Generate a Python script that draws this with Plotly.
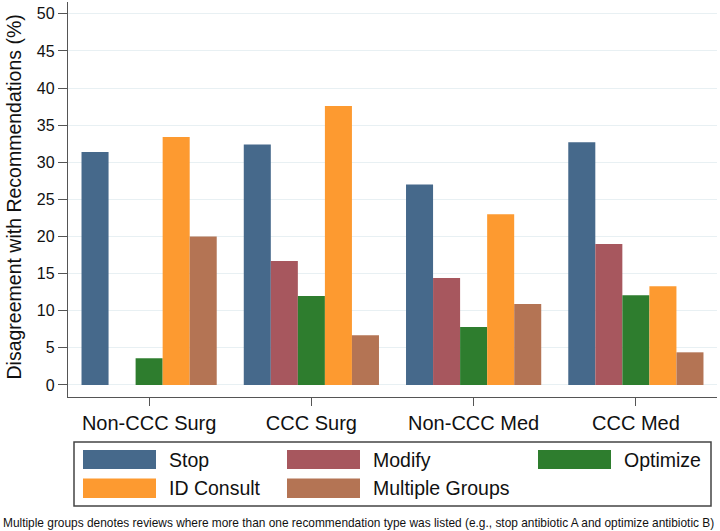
import plotly.graph_objects as go

categories = ["Non-CCC Surg", "CCC Surg", "Non-CCC Med", "CCC Med"]
series_names = ["Stop", "Modify", "Optimize", "ID Consult", "Multiple Groups"]
stop = [31.4, 32.4, 27.0, 32.7]
modify = [None, 16.7, 14.4, 19.0]
optimize = [3.6, 12.0, 7.8, 12.1]
id_consult = [33.4, 37.6, 23.0, 13.3]
multiple_groups = [20.0, 6.7, 10.9, 4.4]
y_ticks = [0, 5, 10, 15, 20, 25, 30, 35, 40, 45, 50]
caption = ("Multiple groups denotes reviews where more than one recommendation type was listed "
           "(e.g., stop antibiotic A and optimize antibiotic B)")

series_values = [stop, modify, optimize, id_consult, multiple_groups]
colors = ["#46698b", "#a7575e", "#2e7d2e", "#fd9a30", "#b47454"]
FONT = "Liberation Sans, Arial, sans-serif"

W, H = 720, 531
ML, MR, MT, MB = 68, 3, 2, 134
PW, PH = W - ML - MR, H - MT - MB

fig = go.Figure()
for name, vals, col in zip(series_names, series_values, colors):
    fig.add_trace(go.Bar(x=categories, y=vals, name=name, marker_color=col,
                         marker_line_width=0, showlegend=False))

fig.update_layout(
    width=W, height=H,
    margin=dict(l=ML, r=MR, t=MT, b=MB, pad=0),
    paper_bgcolor="white", plot_bgcolor="white",
    barmode="group", bargap=0.1667, bargroupgap=0,
    font=dict(family=FONT, color="#222"),
)
fig.update_xaxes(
    range=[-0.5, 3.5], showline=True, linecolor="#555", linewidth=1.3,
    ticks="outside", ticklen=8, tickcolor="#555", tickwidth=1.3,
    tickfont=dict(size=20, color="#111"), showgrid=False, zeroline=False,
)
fig.update_yaxes(
    range=[-1.62, 51.6], tickvals=y_ticks, showline=True, linecolor="#555", linewidth=1.3,
    ticks="outside", ticklen=9, tickcolor="#555", tickwidth=1.3,
    tickfont=dict(size=16, color="#111"), showgrid=True, gridcolor="#e8f0f3", gridwidth=1,
    zeroline=False,
)

def px_x(p):
    return (p - ML) / PW

def px_y(p):
    return (H - MB - p) / PH

shapes = []
annotations = []
# y axis title
annotations.append(dict(text="Disagreement with Recommendations (%)", textangle=-90,
                        xref="paper", yref="paper", x=px_x(13.5), y=px_y(197),
                        xanchor="center", yanchor="middle", showarrow=False,
                        font=dict(size=19.5, color="#111", family=FONT)))
# legend box
shapes.append(dict(type="rect", xref="paper", yref="paper",
                   x0=px_x(74), x1=px_x(711), y0=px_y(442), y1=px_y(506),
                   line=dict(color="#444", width=1.5), fillcolor="white"))
col_x = [83, 287, 538]
row_y = [(450, 469), (478.5, 498)]
for i, (name, col) in enumerate(zip(series_names, colors)):
    r, c = divmod(i, 3)
    x0 = col_x[c]
    y0, y1 = row_y[r]
    shapes.append(dict(type="rect", xref="paper", yref="paper",
                       x0=px_x(x0), x1=px_x(x0 + 73), y0=px_y(y0), y1=px_y(y1),
                       line=dict(width=0), fillcolor=col))
    annotations.append(dict(text=name, xref="paper", yref="paper",
                            x=px_x(x0 + 84), y=px_y((y0 + y1) / 2),
                            xanchor="left", yanchor="middle", showarrow=False,
                            font=dict(size=19.5, color="#111", family=FONT)))
# caption
annotations.append(dict(text=caption, xref="paper", yref="paper",
                        x=px_x(1), y=px_y(522.5), xanchor="left", yanchor="middle",
                        showarrow=False, font=dict(size=11.9, color="#111", family=FONT)))

fig.update_layout(shapes=shapes, annotations=annotations)
fig.write_html(
    "out.html",
    config={"displayModeBar": False},
    post_script="document.body.style.margin='0';document.body.style.overflow='hidden';",
)
